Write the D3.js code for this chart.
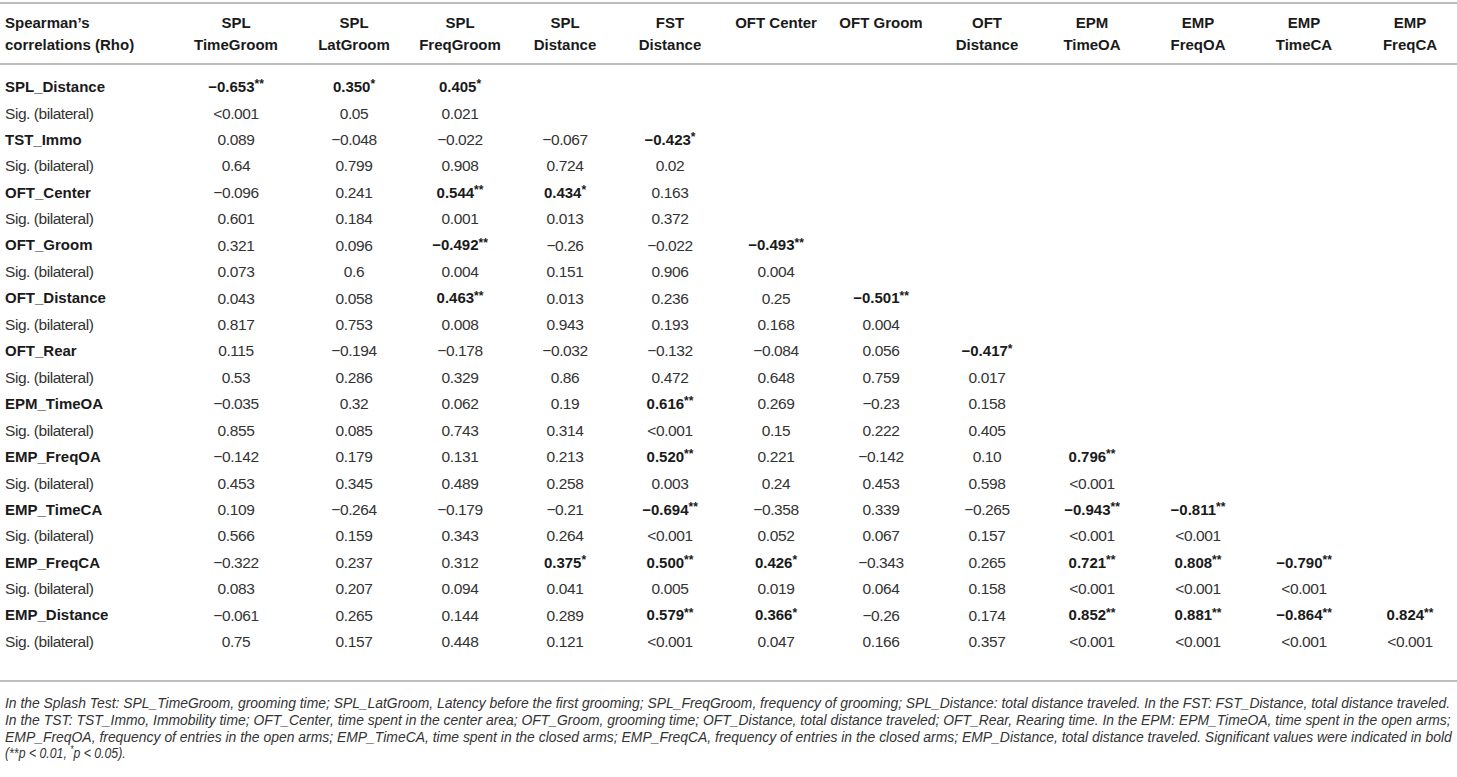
<!DOCTYPE html>
<html lang="en">
<head>
<meta charset="UTF-8">
<title>Spearman's correlations</title>
<style>
    body { margin: 0; background: #fff; }
    svg text { font-family: "Liberation Sans", Arial, Helvetica, sans-serif; fill: #333; }
    .head { font-weight: bold; font-size: 15px; fill: #1a1a1a; }
    .label { font-weight: bold; font-size: 15px; fill: #1a1a1a; }
    .sig-label { font-size: 15.5px; letter-spacing: -0.45px; }
    .cell { font-size: 15.5px; text-anchor: middle; letter-spacing: -0.4px; }
    .cell.bold { font-weight: bold; font-size: 15px; fill: #1a1a1a; letter-spacing: 0; }
    .note { font-style: italic; font-size: 15px; fill: #333; }
    .rule { stroke: #bdbdbd; stroke-width: 2; }
</style>
</head>
<body>
<svg class="table"></svg>
<script src="https://cdn.jsdelivr.net/npm/d3@7"></script>
<script>

    var rowLabels = ["SPL_Distance", "TST_Immo", "OFT_Center", "OFT_Groom", "OFT_Distance", "OFT_Rear",
        "EPM_TimeOA", "EMP_FreqOA", "EMP_TimeCA", "EMP_FreqCA", "EMP_Distance"];

    var colHeaders = [["SPL", "TimeGroom"], ["SPL", "LatGroom"], ["SPL", "FreqGroom"], ["SPL", "Distance"],
        ["FST", "Distance"], ["OFT Center"], ["OFT Groom"], ["OFT", "Distance"], ["EPM", "TimeOA"],
        ["EMP", "FreqOA"], ["EMP", "TimeCA"], ["EMP", "FreqCA"]];

    // rho values (as printed), stars mark significance
    var rho = [
        ["−0.653", "0.350", "0.405"],
        ["0.089", "−0.048", "−0.022", "−0.067", "−0.423"],
        ["−0.096", "0.241", "0.544", "0.434", "0.163"],
        ["0.321", "0.096", "−0.492", "−0.26", "−0.022", "−0.493"],
        ["0.043", "0.058", "0.463", "0.013", "0.236", "0.25", "−0.501"],
        ["0.115", "−0.194", "−0.178", "−0.032", "−0.132", "−0.084", "0.056", "−0.417"],
        ["−0.035", "0.32", "0.062", "0.19", "0.616", "0.269", "−0.23", "0.158"],
        ["−0.142", "0.179", "0.131", "0.213", "0.520", "0.221", "−0.142", "0.10", "0.796"],
        ["0.109", "−0.264", "−0.179", "−0.21", "−0.694", "−0.358", "0.339", "−0.265", "−0.943", "−0.811"],
        ["−0.322", "0.237", "0.312", "0.375", "0.500", "0.426", "−0.343", "0.265", "0.721", "0.808", "−0.790"],
        ["−0.061", "0.265", "0.144", "0.289", "0.579", "0.366", "−0.26", "0.174", "0.852", "0.881", "−0.864", "0.824"]
    ];

    var stars = [
        ["**", "*", "*"],
        ["", "", "", "", "*"],
        ["", "", "**", "*", ""],
        ["", "", "**", "", "", "**"],
        ["", "", "**", "", "", "", "**"],
        ["", "", "", "", "", "", "", "*"],
        ["", "", "", "", "**", "", "", ""],
        ["", "", "", "", "**", "", "", "", "**"],
        ["", "", "", "", "**", "", "", "", "**", "**"],
        ["", "", "", "*", "**", "*", "", "", "**", "**", "**"],
        ["", "", "", "", "**", "*", "", "", "**", "**", "**", "**"]
    ];

    var sig = [
        ["<0.001", "0.05", "0.021"],
        ["0.64", "0.799", "0.908", "0.724", "0.02"],
        ["0.601", "0.184", "0.001", "0.013", "0.372"],
        ["0.073", "0.6", "0.004", "0.151", "0.906", "0.004"],
        ["0.817", "0.753", "0.008", "0.943", "0.193", "0.168", "0.004"],
        ["0.53", "0.286", "0.329", "0.86", "0.472", "0.648", "0.759", "0.017"],
        ["0.855", "0.085", "0.743", "0.314", "<0.001", "0.15", "0.222", "0.405"],
        ["0.453", "0.345", "0.489", "0.258", "0.003", "0.24", "0.453", "0.598", "<0.001"],
        ["0.566", "0.159", "0.343", "0.264", "<0.001", "0.052", "0.067", "0.157", "<0.001", "<0.001"],
        ["0.083", "0.207", "0.094", "0.041", "0.005", "0.019", "0.064", "0.158", "<0.001", "<0.001", "<0.001"],
        ["0.75", "0.157", "0.448", "0.121", "<0.001", "0.047", "0.166", "0.357", "<0.001", "<0.001", "<0.001", "<0.001"]
    ];

    var noteLines = [
        "In the Splash Test: SPL_TimeGroom, grooming time; SPL_LatGroom, Latency before the first grooming; SPL_FreqGroom, frequency of grooming; SPL_Distance: total distance traveled. In the FST: FST_Distance, total distance traveled.",
        "In the TST: TST_Immo, Immobility time; OFT_Center, time spent in the center area; OFT_Groom, grooming time; OFT_Distance, total distance traveled; OFT_Rear, Rearing time. In the EPM: EPM_TimeOA, time spent in the open arms;",
        "EMP_FreqOA, frequency of entries in the open arms; EMP_TimeCA, time spent in the closed arms; EMP_FreqCA, frequency of entries in the closed arms; EMP_Distance, total distance traveled. Significant values were indicated in bold"
    ];

    var width = 1457, height = 777;
    var left = 5, right = 1452;

    // column centres of the 12 value columns
    var colCentres = [236, 354, 460, 565, 670, 776, 881, 987, 1092, 1198, 1304, 1410];
    var x = d3.scaleOrdinal().domain(d3.range(colHeaders.length)).range(colCentres);

    // every table row: a label row and a sig row for each variable
    var y = d3.scalePoint().domain(d3.range(rowLabels.length * 2)).range([86.5, 641.5]);

    var svg = d3.select(".table").attr("width", width).attr("height", height);

    // rules
    [3, 64, 681].forEach(function (yy) {
        svg.append("line").attr("class", "rule")
            .attr("x1", 0).attr("x2", width).attr("y1", yy).attr("y2", yy);
    });

    // header
    var head = svg.append("g");
    var headY = [28, 49.5];
    head.append("text").attr("class", "head").attr("x", left).attr("y", headY[0]).text("Spearman’s");
    head.append("text").attr("class", "head").attr("x", left).attr("y", headY[1]).text("correlations (Rho)");

    head.selectAll("g.col")
        .data(colHeaders)
        .enter()
        .append("g")
        .attr("class", "col")
        .each(function (d, i) {
            d3.select(this).selectAll("text")
                .data(d)
                .enter()
                .append("text")
                .attr("class", "head")
                .attr("text-anchor", "middle")
                .attr("x", x(i))
                .attr("y", function (t, k) { return headY[k]; })
                .text(function (t) { return t; });
        });

    // body rows
    var body = svg.append("g");
    rowLabels.forEach(function (name, r) {
        var yr = y(r * 2), ys = y(r * 2 + 1);
        body.append("text").attr("class", "label").attr("x", left).attr("y", yr).attr("dy", "0.36em").text(name);
        body.append("text").attr("class", "sig-label").attr("x", left).attr("y", ys).attr("dy", "0.36em").text("Sig. (bilateral)");

        body.selectAll("text.rho" + r)
            .data(rho[r])
            .enter()
            .append("text")
            .attr("class", function (d, i) { return "cell rho" + r + (stars[r][i] ? " bold" : ""); })
            .attr("x", function (d, i) { return x(i); })
            .attr("y", yr)
            .attr("dy", "0.36em")
            .each(function (d, i) {
                var t = d3.select(this);
                t.append("tspan").text(d);
                if (stars[r][i]) {
                    t.append("tspan").attr("font-size", "12px")
                        .attr("dy", "-0.3em").text(stars[r][i]);
                }
            });

        body.selectAll("text.sig" + r)
            .data(sig[r])
            .enter()
            .append("text")
            .attr("class", "cell sig" + r)
            .attr("x", function (d, i) { return x(i); })
            .attr("y", ys)
            .attr("dy", "0.36em")
            .text(function (d) { return d; });
    });

    // footnote: a condensed italic, each full line squeezed to the table width
    var note = svg.append("g");
    var noteY = function (i) { return 708 + i * 16.8; };
    note.selectAll("text.line")
        .data(noteLines)
        .enter()
        .append("text")
        .attr("class", "note line")
        .text(function (d) { return d; })
        .attr("transform", function (d, i) {
            var len = this.getComputedTextLength();
            return "translate(" + left + "," + noteY(i) + ") scale(" + ((right - left) / len) + ",1)";
        });

    var last = note.append("text").attr("class", "note")
        .attr("transform", "translate(" + left + "," + noteY(3) + ") scale(0.82,1)");
    last.append("tspan").text("(**p < 0.01, ");
    last.append("tspan").attr("font-size", "10px").attr("dy", "-5").text("*");
    last.append("tspan").attr("dy", "5").text("p < 0.05).");

</script>
</body>
</html>
